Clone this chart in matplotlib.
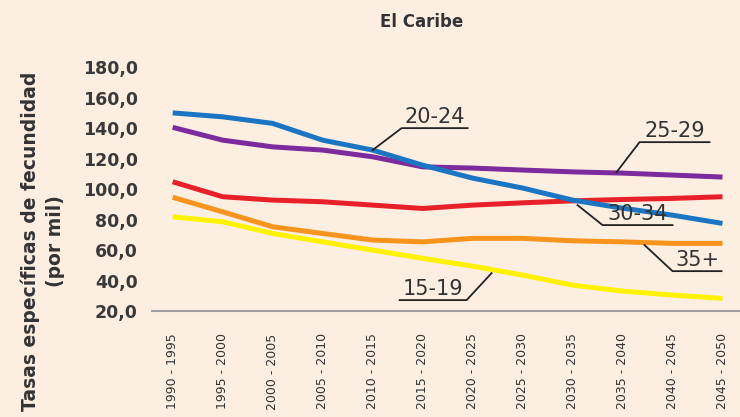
import matplotlib.pyplot as plt

periods = ['1990 - 1995', '1995 - 2000', '2000 - 2005', '2005 - 2010', '2010 - 2015',
           '2015 - 2020', '2020 - 2025', '2025 - 2030', '2030 - 2035', '2035 - 2040',
           '2040 - 2045', '2045 - 2050']

# Age-specific fertility rates (per thousand)
g15_19 = [81.8, 78.6, 70.9, 65.4, 60.0, 54.6, 49.5, 43.6, 37.0, 33.1, 30.5, 28.3]
g20_24 = [150.0, 147.4, 143.1, 132.1, 125.6, 115.7, 107.2, 100.7, 92.8, 87.5, 82.9, 77.5]
g25_29 = [140.5, 132.1, 127.7, 125.6, 121.2, 114.6, 113.8, 112.5, 111.3, 110.5, 109.2, 107.9]
g30_34 = [104.8, 95.0, 92.8, 91.7, 89.5, 87.3, 89.5, 91.0, 92.3, 93.2, 93.9, 95.0]
g35 = [94.6, 85.1, 75.3, 70.9, 66.6, 65.4, 67.7, 67.7, 66.1, 65.4, 64.4, 64.4]

bg = '#fcefe2'
txt = '#333333'

fig = plt.figure(figsize=(7.4, 4.17), dpi=100, facecolor=bg)
ax = fig.add_axes([0.205, 0.254, 0.795, 0.585], facecolor=bg)

x = range(len(periods))
lw = 3.6
style = dict(lw=lw, solid_capstyle='butt', solid_joinstyle='round')
ax.plot(x, g15_19, color='#fff200', **style)
ax.plot(x, g35, color='#f7941d', **style)
ax.plot(x, g30_34, color='#e8202a', **style)
ax.plot(x, g25_29, color='#7d2a9c', **style)
ax.plot(x, g20_24, color='#1b75c2', **style)

ax.set_ylim(20, 180)
ax.set_xlim(-0.42, 11.35)
ax.set_yticks(range(20, 181, 20))
ax.set_yticklabels(['%d,0' % v for v in range(20, 181, 20)],
                   fontsize=12.5, fontweight='semibold', color='#3a3a3a')
ax.set_xticks(list(x))
ax.set_xticklabels(periods, rotation=90, fontsize=9, color='#333333')
ax.tick_params(axis='both', length=0)
ax.tick_params(axis='x', pad=16)
ax.tick_params(axis='y', pad=10)
for s in ['top', 'right', 'left']:
    ax.spines[s].set_visible(False)
ax.spines['bottom'].set_color('#a0a0a0')
ax.spines['bottom'].set_linewidth(1.5)


# leader line: from point on curve, to elbow, then underline under the label
def label(text, p0, p1, x_end):
    ax.plot([p0[0], p1[0], x_end], [p0[1], p1[1], p1[1]], color='#222222',
            lw=1.3, clip_on=False)
    ax.text((p1[0] + x_end) / 2, p1[1] + 0.5, text, ha='center', va='bottom',
            fontsize=15, color=txt)


label('20-24', (4.0, 125.6), (4.58, 140.0), 5.9)
label('25-29', (8.88, 111.1), (9.34, 130.8), 10.74)
label('30-34', (8.1, 89.5), (8.6, 76.4), 10.0)
label('35+', (9.44, 63.3), (10.0, 46.2), 10.98)
label('15-19', (6.38, 44.9), (5.88, 27.2), 4.54)

fig.text(0.57, 0.947, 'El Caribe', ha='center', va='center', fontsize=12,
         fontweight='bold', color=txt)
fig.text(0.058, 0.422, 'Tasas específicas de fecundidad\n(por mil)', rotation=90,
         ha='center', va='center', multialignment='center', fontsize=13.5,
         fontweight='bold', color=txt, linespacing=1.4)

fig.savefig('out.png', dpi=100, facecolor=bg)
